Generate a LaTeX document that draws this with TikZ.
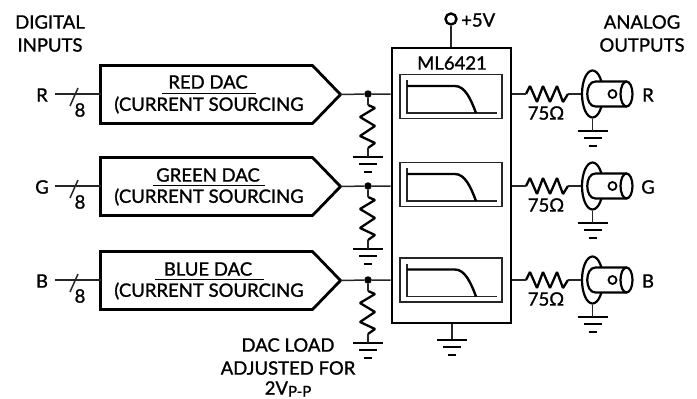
\documentclass[tikz,border=0pt]{standalone}
\usepackage{fontspec}
\setmainfont{Lato}[FakeBold=1.2]
\usetikzlibrary{shapes,shapes.geometric,shapes.symbols}
\tikzset{
	lbl/.style={inner sep=0pt, font=\fontsize{18.5}{18.5}\selectfont},
	wire/.style={line width=1.5pt, color=black!85},
	thin box/.style={rectangle, draw=black!85, line width=1.3pt, minimum width=102pt, minimum height=44pt, inner sep=0pt},
	dacbox/.style={signal, signal to=east, signal from=nowhere, signal pointer angle=92, draw, line width=2.8pt, minimum width=240pt, minimum height=58pt, inner sep=0pt, outer sep=0pt},
	joint/.style={circle, fill=black, inner sep=0pt, minimum size=7.5pt},
	flange/.style={ellipse, draw, line width=2.2pt, inner sep=0pt, minimum width=21pt, minimum height=47pt},
	gnd/.pic={
		\coordinate (-top) at (0,0);
		\draw [line width=2.2pt] (-15,0)-- (15,0);
		\draw [line width=2.2pt] (-9,7)-- (9,7);
		\draw [line width=2.2pt] (-4,15)-- (4,15);
	},
	loadres/.pic={
		\coordinate (-top) at (0,0);
		\coordinate (-bot) at (0,43);
		\draw [line width=2.3pt, line join=bevel] (0,0)-- (7,3)-- (-8,12)-- (7,21)-- (-8,31)-- (7,38)-- (0,43);
	},
	seriesres/.pic={
		\coordinate (-left) at (0,0);
		\coordinate (-right) at (42,0);
		\draw [line width=2.3pt, line join=bevel] (0,0)-- (4,-8)-- (11,8)-- (17,-8)-- (24,8)-- (31,-8)-- (37,8)-- (42,0);
	},
	lowpass/.pic={
		\draw [wire] (-44,-16.5)-- (-44,16.5)-- (46,16.5);
		\draw [line width=2.4pt] (-44,-10.5)-- (4,-10.5) .. controls (14,-10.5) and (20,3) .. (25,16.5);
	},
	bnctube/.pic={
		\draw [line width=2.2pt, fill=white] (34,-12.5)-- (3,-12.5) .. controls (-8,-12.5) and (-8,12.5) .. (3,12.5)-- (34,12.5);
		\draw [line width=2.2pt, fill=white] (34,0) ellipse (6 and 12.5);
		\draw [line width=1.8pt] (20,0) circle (4);
	}
}
\begin{document}
\begin{tikzpicture}[x=1pt,y=-1pt]
	\useasboundingbox (0,0) rectangle (697,399);
	% titles
	\node[lbl] (digital) at (50,22) {DIGITAL};
	\node[lbl] (inputs) at (50,45) {INPUTS};
	\node[lbl] (analog) at (642,22) {ANALOG};
	\node[lbl] (outputs) at (642,45) {OUTPUTS};
	% filter chip
	\node[rectangle, draw, line width=2.8pt, minimum width=119pt, minimum height=275pt, inner sep=0pt] (chip) at (451.5,185.5) {};
	\node[lbl] (chipname) at (452,63) {ML6421};
	\node[circle, draw, line width=2.4pt, inner sep=0pt, minimum size=11pt] (vcc) at (451,19) {};
	\node[lbl, anchor=west] (vcclabel) at (461,20) {+5V};
	\draw[wire] (vcc)-- (chip.north -| vcc);
	\coordinate (chipgnd) at (452,340);
	\draw[wire] (chip.south -| chipgnd)-- (chipgnd);
	\path (chipgnd) pic {gnd};
	% red
	\node[lbl] (rin) at (42,95) {R};
	\node[dacbox] (rdac) at (206.5,94.5) {};
	\node[lbl] (rdactop) at (208,82) {RED DAC};
	\node[lbl] (rdacsub) at (209,105) {(CURRENT SOURCING};
	\draw [line width=1pt] (162,93)-- (256,93);
	\coordinate (rinend) at (55,94);
	\draw[wire] (rinend)-- (rdac.west |- rinend);
	\draw[wire] (70,106)-- (78,88);
	\node[lbl] (rbits) at (80,110) {8};
	\node[joint] (rjoin) at (368,94) {};
	\draw[wire] (rdac.east)-- (rjoin)-- (chip.west |- rjoin);
	\path (368,105) pic (rload) {loadres};
	\path (368,157) pic (rlgnd) {gnd};
	\draw[wire] (rjoin)-- (rload-top);
	\draw[wire] (rload-bot)-- (rlgnd-top);
	\node[thin box] (rfilter) at (451,96.5) {};
	\path (rfilter) pic {lowpass};
	\path (526,94) pic (rser) {seriesres};
	\draw[wire] (chip.east |- rser-left)-- (rser-left);
	\node[lbl] (rohm) at (546,113) {75Ω};
	\node[flange] (rbnc) at (592.5,94) {};
	\draw[wire] (rser-right)-- (rbnc.west);
	\path (rbnc) pic {bnctube};
	\path (592.5,131) pic (rbgnd) {gnd};
	\draw[wire] (rbnc.south)-- (rbgnd-top);
	\node[lbl] (rout) at (648,95) {R};
	% green
	\node[lbl] (gin) at (42,187) {G};
	\node[dacbox] (gdac) at (206.5,186.5) {};
	\node[lbl] (gdactop) at (208,175) {GREEN DAC};
	\node[lbl] (gdacsub) at (209,197) {(CURRENT SOURCING};
	\draw [line width=1pt] (153,185)-- (265,185);
	\coordinate (ginend) at (55,186);
	\draw[wire] (ginend)-- (gdac.west |- ginend);
	\draw[wire] (70,198)-- (78,180);
	\node[lbl] (gbits) at (80,202) {8};
	\node[joint] (gjoin) at (368,186) {};
	\draw[wire] (gdac.east)-- (gjoin)-- (chip.west |- gjoin);
	\path (368,197) pic (gload) {loadres};
	\path (368,249) pic (glgnd) {gnd};
	\draw[wire] (gjoin)-- (gload-top);
	\draw[wire] (gload-bot)-- (glgnd-top);
	\node[thin box] (gfilter) at (451,184.5) {};
	\path (gfilter) pic {lowpass};
	\path (526,186) pic (gser) {seriesres};
	\draw[wire] (chip.east |- gser-left)-- (gser-left);
	\node[lbl] (gohm) at (546,205) {75Ω};
	\node[flange] (gbnc) at (592.5,186) {};
	\draw[wire] (gser-right)-- (gbnc.west);
	\path (gbnc) pic {bnctube};
	\path (592.5,223) pic (gbgnd) {gnd};
	\draw[wire] (gbnc.south)-- (gbgnd-top);
	\node[lbl] (gout) at (648,187) {G};
	% blue
	\node[lbl] (bin) at (42,281) {B};
	\node[dacbox] (bdac) at (206.5,280.5) {};
	\node[lbl] (bdactop) at (208,269) {BLUE DAC};
	\node[lbl] (bdacsub) at (209,291) {(CURRENT SOURCING};
	\draw [line width=1pt] (155,279)-- (264,279);
	\coordinate (binend) at (55,280);
	\draw[wire] (binend)-- (bdac.west |- binend);
	\draw[wire] (70,292)-- (78,274);
	\node[lbl] (bbits) at (80,296) {8};
	\node[joint] (bjoin) at (368,280) {};
	\draw[wire] (bdac.east)-- (bjoin)-- (chip.west |- bjoin);
	\path (368,291) pic (bload) {loadres};
	\path (368,343) pic (blgnd) {gnd};
	\draw[wire] (bjoin)-- (bload-top);
	\draw[wire] (bload-bot)-- (blgnd-top);
	\node[thin box] (bfilter) at (451,280) {};
	\path (bfilter) pic {lowpass};
	\path (526,280) pic (bser) {seriesres};
	\draw[wire] (chip.east |- bser-left)-- (bser-left);
	\node[lbl] (bohm) at (546,299) {75Ω};
	\node[flange] (bbnc) at (592.5,280) {};
	\draw[wire] (bser-right)-- (bbnc.west);
	\path (bbnc) pic {bnctube};
	\path (592.5,317) pic (bbgnd) {gnd};
	\draw[wire] (bbnc.south)-- (bbgnd-top);
	\node[lbl] (bout) at (648,281) {B};
	% load note
	\node[lbl] (note1) at (288,345) {DAC LOAD};
	\node[lbl] (note2) at (288,368) {ADJUSTED FOR};
	\node[lbl] (note3) at (288,389) {2V\raisebox{-2pt}{\fontsize{15}{15}\selectfont P-P}};
\end{tikzpicture}
\end{document}
